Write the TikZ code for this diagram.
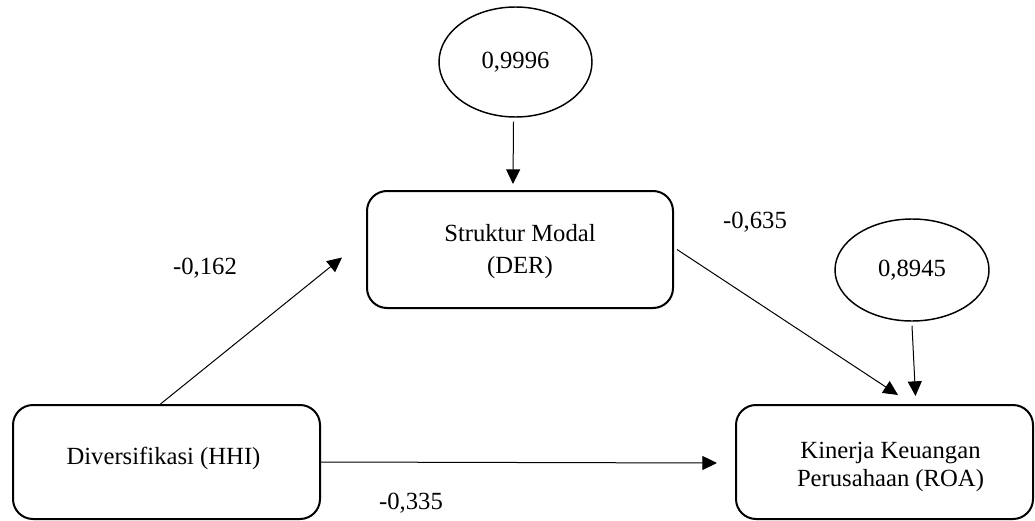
\documentclass[tikz,border=0pt]{standalone}
\usepackage{fontspec}
\setmainfont{Liberation Serif}
\usetikzlibrary{arrows.meta,calc,shapes.geometric}
\begin{document}
\begin{tikzpicture}[x=0.75pt,y=-0.75pt,
  every node/.style={font=\fontsize{18.5}{23}\selectfont},
  box/.style={draw,line width=1.5pt,rounded corners=15pt,align=center,inner sep=0pt},
  boxtext/.style={align=center,inner sep=0pt,font=\fontsize{18.5}{21.5}\selectfont},
  resid/.style={draw,ellipse,line width=1.1pt,inner sep=0pt},
  conn/.style={line width=0.75pt,-{Triangle[length=11pt,width=10.5pt]}},
  lbl/.style={inner sep=0pt}]
\useasboundingbox (0,0) rectangle (1035,521);
\node[box,minimum width=307*0.75pt,minimum height=114*0.75pt] (hhi) at (166.5,462) {};
\node[boxtext] (hhit) at ($(hhi.center)+(-3,-4)$) {Diversifikasi (HHI)};
\node[box,minimum width=306*0.75pt,minimum height=117*0.75pt] (der) at (520,249.5) {};
\node[boxtext] (dert) at ($(der.center)+(0,2)$) {Struktur Modal\\[2pt](DER)};
\node[box,minimum width=297*0.75pt,minimum height=114*0.75pt] (roa) at (884.5,462) {};
\node[boxtext] (roat) at ($(roa.center)+(6,5)$) {Kinerja Keuangan\\Perusahaan (ROA)};
\node[resid,minimum width=153*0.75pt,minimum height=110*0.75pt] (e1) at (515.5,62) {0,9996};
\node[resid,minimum width=154*0.75pt,minimum height=102*0.75pt] (e2) at (912,270) {0,8945};
\draw[conn] ($(e1.south)+(-2,4)$) -- ($(der.north)+(-7,-6)$);
\draw[conn] ($(e2.south)+(0,4)$) -- ($(roa.north)+(31,-8)$);
\draw[conn] ($(der.east)+(3,0)$) -- ($(roa.north)+(13.5,-9)$);
\draw[conn] ($(hhi.north)+(-6,0)$) -- ($(der.west)+(-24,8)$);
\draw[conn] (hhi.east) -- ($(roa.west)+(-18,1)$);
\node[lbl] (l1) at (205,268) {-0,162};
\node[lbl] (l2) at (755,222) {-0,635};
\node[lbl] (l3) at (411,503) {-0,335};
\end{tikzpicture}
\end{document}
